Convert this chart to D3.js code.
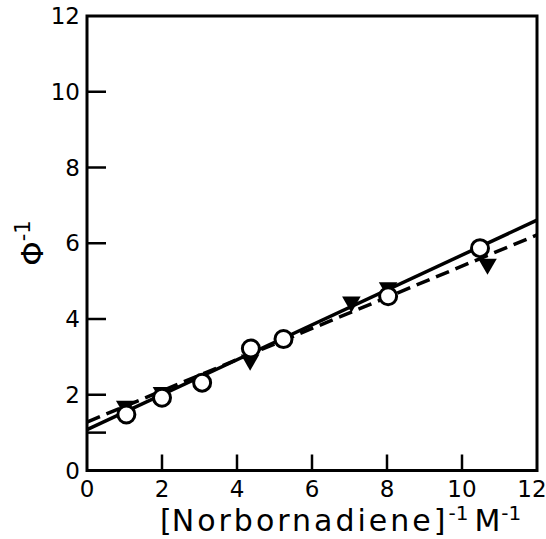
<!DOCTYPE html>
<html lang="en">
<head>
<meta charset="UTF-8">
<title>Quantum yield vs norbornadiene</title>
<script src="https://d3js.org/d3.v7.min.js"></script>
<style>
  body { margin: 0; background: #fff; }
  svg { display: block; }
  .tick-label { font-family: 'DejaVu Sans', sans-serif; font-size: 23px; fill: #000; }
  .axis-title { font-family: 'DejaVu Sans', sans-serif; fill: #000; }
</style>
</head>
<body>
<svg width="546" height="539"></svg>
<script>
// data
const circleX = [1.05, 2.0, 3.07, 4.37, 5.24, 8.03, 10.48];
const circleY = [1.48, 1.92, 2.32, 3.22, 3.47, 4.6, 5.87];
const triX = [1.02, 2.0, 4.35, 7.05, 8.03, 10.68];
const triY = [1.7, 2.06, 2.92, 4.45, 4.83, 5.45];
// fitted lines: [x, y] end points
const solidLine = [[0, 1.08], [12, 6.61]];
const dashedLine = [[0, 1.28], [12, 6.22]];
const xTicks = [0, 2, 4, 6, 8, 10, 12];
const yTicks = [0, 2, 4, 6, 8, 10, 12];
const interceptTick = [1];

const svg = d3.select("svg");
const x = d3.scaleLinear().domain([0, 12]).range([87, 537]);
const y = d3.scaleLinear().domain([0, 12]).range([470.5, 16]);

// frame
svg.append("rect")
   .attr("x", x(0)).attr("y", y(12))
   .attr("width", x(12) - x(0)).attr("height", y(0) - y(12))
   .attr("fill", "none").attr("stroke", "#000").attr("stroke-width", 3);

// inward ticks on left and bottom
svg.selectAll(".ytick")
   .data(yTicks.filter(d => d > 0 && d < 12).concat(interceptTick))
   .enter().append("line")
   .attr("x1", x(0)).attr("x2", x(0) + 19)
   .attr("y1", d => y(d)).attr("y2", d => y(d))
   .attr("stroke", "#000").attr("stroke-width", 2.5);

svg.selectAll(".xtick")
   .data(xTicks.filter(d => d > 0 && d < 12))
   .enter().append("line")
   .attr("x1", d => x(d)).attr("x2", d => x(d))
   .attr("y1", y(0)).attr("y2", y(0) - 16)
   .attr("stroke", "#000").attr("stroke-width", 2.5);

// tick labels
svg.selectAll(".ylab")
   .data(yTicks).enter().append("text")
   .attr("class", "tick-label")
   .attr("x", x(0) - 7)
   .attr("y", d => y(d) + 8)
   .attr("text-anchor", "end")
   .text(d => d);

svg.selectAll(".xlab")
   .data(xTicks).enter().append("text")
   .attr("class", "tick-label")
   .attr("x", d => d === 12 ? x(d) - 5 : x(d))
   .attr("y", y(0) + 26)
   .attr("text-anchor", "middle")
   .text(d => d);

// lines
const line = d3.line().x(d => x(d[0])).y(d => y(d[1]));
svg.append("path").attr("d", line(solidLine))
   .attr("fill", "none").attr("stroke", "#000").attr("stroke-width", 3.5);
svg.append("path").attr("d", line(dashedLine))
   .attr("fill", "none").attr("stroke", "#000").attr("stroke-width", 3.5)
   .attr("stroke-dasharray", "14,7");

// filled down triangles
const tri = d3.symbol().type(d3.symbolTriangle).size(150);
svg.selectAll(".tri")
   .data(triX.map((v, i) => [v, triY[i]]))
   .enter().append("path")
   .attr("d", tri)
   .attr("transform", d => `translate(${x(d[0])},${y(d[1])}) rotate(180)`)
   .attr("fill", "#000");

// open circles
svg.selectAll(".circ")
   .data(circleX.map((v, i) => [v, circleY[i]]))
   .enter().append("circle")
   .attr("cx", d => x(d[0])).attr("cy", d => y(d[1]))
   .attr("r", 8.5)
   .attr("fill", "#fff").attr("stroke", "#000").attr("stroke-width", 3);

// axis titles
const xt = svg.append("text").attr("class", "axis-title")
   .attr("x", 160).attr("y", 531).style("font-size", "30px");
xt.append("tspan").text("[");
xt.append("tspan").text("Norbornadiene").style("letter-spacing", "3px");
xt.append("tspan").text("]");
xt.append("tspan").text("-1").attr("dy", -11).attr("dx", 3).style("font-size", "20px");
xt.append("tspan").text("M").attr("dy", 11).attr("dx", 6);
xt.append("tspan").text("-1").attr("dy", -11).attr("dx", 1).style("font-size", "20px");

const yt = svg.append("text").attr("class", "axis-title")
   .attr("transform", "translate(43,243) rotate(-90)")
   .attr("text-anchor", "middle").style("font-size", "31px");
yt.append("tspan").text("Φ");
yt.append("tspan").text("-1").attr("dy", -13).style("font-size", "21px");
</script>
</body>
</html>
